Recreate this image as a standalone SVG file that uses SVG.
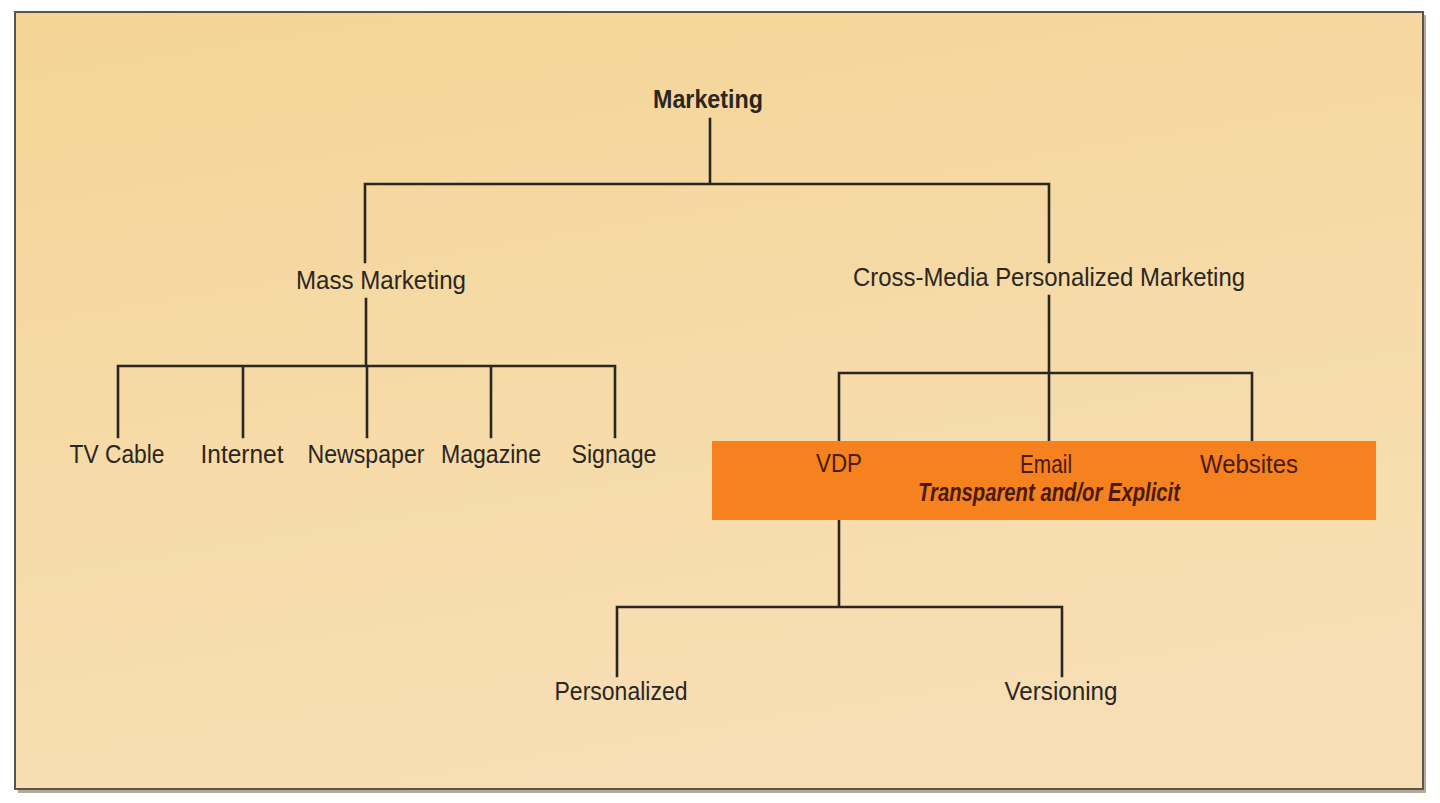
<svg xmlns="http://www.w3.org/2000/svg" width="1440" height="803" viewBox="0 0 1440 803">
<defs>
<linearGradient id="bg" x1="0" y1="0" x2="0.3" y2="1">
<stop offset="0" stop-color="#F4D596"/>
<stop offset="0.5" stop-color="#F6DAA6"/>
<stop offset="1" stop-color="#F8DEB4"/>
</linearGradient>
<style>
.t{font-family:"Liberation Sans Narrow","Liberation Sans",Arial,sans-serif;font-size:25px;fill:#2a2622;text-anchor:middle}
.b{font-weight:bold}
.o{fill:#4a1a08}
.c{fill:none;stroke:#2a2622;stroke-width:2.6;stroke-linecap:square}
</style>
</defs>
<rect x="0" y="0" width="1440" height="803" fill="#ffffff"/>
<rect x="18" y="15" width="1408" height="778" fill="#b5aa98"/>
<rect x="15" y="12" width="1408" height="777" fill="url(#bg)" stroke="#5a544c" stroke-width="2"/>
<g id="connectors">
<path class="c" d="M710 119 V184 M365 184 H1049 M365 184 V262 M1049 184 V262"/>
<path class="c" d="M366 299 V366 M118 366 H615 M118 366 V437 M243 366 V437 M367 366 V437 M491 366 V437 M615 366 V437"/>
<path class="c" d="M1049 296 V373 M839 373 H1252 M839 373 V441 M1049 373 V441 M1252 373 V441"/>
<path class="c" d="M839 520 V607 M617 607 H1062 M617 607 V676 M1062 607 V676"/>
</g>
<g id="marketing"><text class="t b" x="708" y="108" textLength="110" lengthAdjust="spacingAndGlyphs">Marketing</text></g>
<g id="mass"><text class="t" x="381" y="289" textLength="170" lengthAdjust="spacingAndGlyphs">Mass Marketing</text></g>
<g id="cross"><text class="t" x="1049" y="286" textLength="392" lengthAdjust="spacingAndGlyphs">Cross-Media Personalized Marketing</text></g>
<g id="tvcable"><text class="t" x="117" y="463" textLength="95" lengthAdjust="spacingAndGlyphs">TV Cable</text></g>
<g id="internet"><text class="t" x="242" y="463" textLength="83" lengthAdjust="spacingAndGlyphs">Internet</text></g>
<g id="newspaper"><text class="t" x="366" y="463" textLength="117" lengthAdjust="spacingAndGlyphs">Newspaper</text></g>
<g id="magazine"><text class="t" x="491" y="463" textLength="100" lengthAdjust="spacingAndGlyphs">Magazine</text></g>
<g id="signage"><text class="t" x="614" y="463" textLength="85" lengthAdjust="spacingAndGlyphs">Signage</text></g>
<g id="channels">
<rect x="712" y="441" width="664" height="79" fill="#F5811F"/>
<text class="t o" x="839" y="472" textLength="46" lengthAdjust="spacingAndGlyphs">VDP</text>
<text class="t o" x="1046" y="473" font-size="21" textLength="52" lengthAdjust="spacingAndGlyphs">Email</text>
<text class="t o" x="1249" y="473" textLength="98" lengthAdjust="spacingAndGlyphs">Websites</text>
<text class="t o b" x="1049" y="501" font-size="21" font-style="italic" textLength="262" lengthAdjust="spacingAndGlyphs">Transparent and/or Explicit</text>
</g>
<g id="personalized"><text class="t" x="621" y="700" textLength="133" lengthAdjust="spacingAndGlyphs">Personalized</text></g>
<g id="versioning"><text class="t" x="1061" y="700" textLength="113" lengthAdjust="spacingAndGlyphs">Versioning</text></g>
</svg>
